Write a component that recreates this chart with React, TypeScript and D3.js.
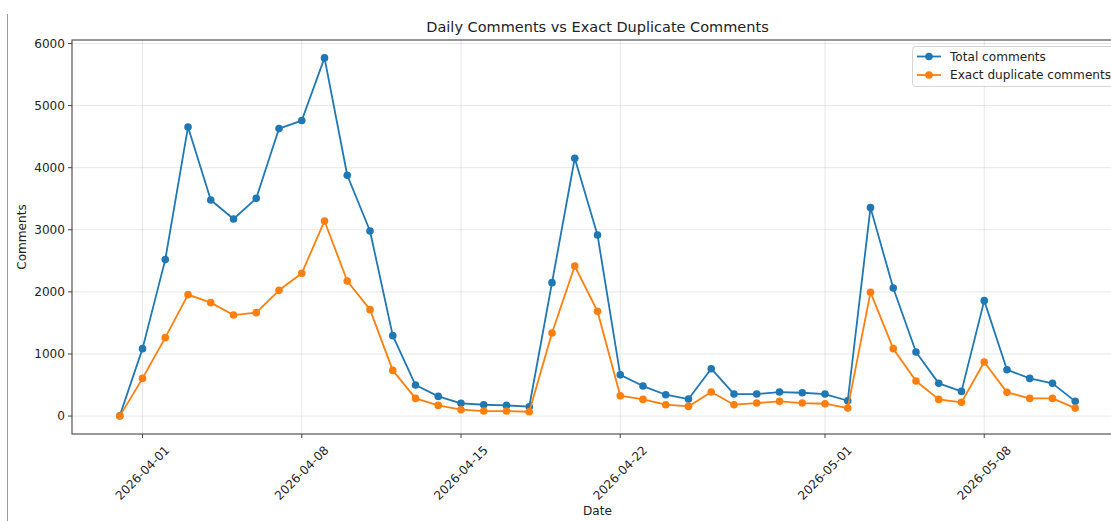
import React from "react";
import * as d3 from "d3";

const dates: string[] = [
  "2026-03-31","2026-04-01","2026-04-02","2026-04-03","2026-04-04","2026-04-05","2026-04-06","2026-04-07",
  "2026-04-08","2026-04-09","2026-04-10","2026-04-11","2026-04-12","2026-04-13","2026-04-14","2026-04-15",
  "2026-04-16","2026-04-17","2026-04-18","2026-04-19","2026-04-20","2026-04-21","2026-04-22","2026-04-23",
  "2026-04-24","2026-04-25","2026-04-26","2026-04-27","2026-04-28","2026-04-29","2026-04-30","2026-05-01",
  "2026-05-02","2026-05-03","2026-05-04","2026-05-05","2026-05-06","2026-05-07","2026-05-08","2026-05-09",
  "2026-05-10","2026-05-11","2026-05-12",
];

const totalComments: number[] = [
  5, 1086, 2520, 4656, 3480, 3174, 3507, 4630,
  4759, 5768, 3878, 2981, 1295, 500, 317, 205,
  183, 172, 151, 2149, 4152, 2917, 664, 484,
  344, 274, 763, 355, 355, 387, 376, 355,
  247, 3357, 2062, 1031, 527, 398, 1859, 747,
  607, 527, 237,
];

const duplicateComments: number[] = [
  0, 607, 1263, 1956, 1827, 1627, 1666, 2025,
  2299, 3142, 2175, 1714, 736, 285, 172, 103,
  81, 81, 70, 1338, 2417, 1687, 328, 269,
  183, 156, 387, 183, 210, 237, 210, 199,
  129, 1993, 1086, 564, 269, 221, 870, 382,
  285, 285, 129,
];

const xTickLabels: string[] = ["2026-04-01", "2026-04-08", "2026-04-15", "2026-04-22", "2026-05-01", "2026-05-08"];
const yTickValues: number[] = [0, 1000, 2000, 3000, 4000, 5000, 6000];

const seriesNames = ["Total comments", "Exact duplicate comments"];
const seriesColors = ["#1f77b4", "#ff7f0e"];

const W = 1111;
const H = 521;
const M = { left: 72, right: 1123, top: 40, bottom: 434 };
const FONT = "DejaVu Sans, sans-serif";
const FS = 12.1;

export default function App() {
  const parse = d3.utcParse("%Y-%m-%d");
  const xs = dates.map((d) => parse(d) as Date);
  const x0 = xs[0].getTime();
  const x1 = xs[xs.length - 1].getTime();
  const pad = (x1 - x0) * 0.05;
  const x = d3.scaleUtc().domain([new Date(x0 - pad), new Date(x1 + pad)]).range([M.left, M.right]);
  const maxV = d3.max(totalComments) as number;
  const minV = 0;
  const yp = (maxV - minV) * 0.05;
  const y = d3.scaleLinear().domain([minV - yp, maxV + yp]).range([M.bottom, M.top]);

  const series = [totalComments, duplicateComments];
  const line = d3
    .line<number>()
    .x((_, i) => x(xs[i]))
    .y((v) => y(v));

  const xTicks = xTickLabels.map((s) => ({ label: s, pos: x(parse(s) as Date) }));

  return (
    <svg
      width={W}
      height={H}
      style={{ position: "absolute", left: 0, top: 0, background: "#fff" }}
      fontFamily={FONT}
    >
      <rect x={0} y={0} width={W} height={H} fill="#fff" />
      <line x1={7.5} x2={7.5} y1={14} y2={H} stroke="#9a9a9a" strokeWidth={1} />

      {/* grid */}
      {xTicks.map((t) => (
        <line key={"gx" + t.label} x1={t.pos} x2={t.pos} y1={M.top} y2={M.bottom} stroke="#b0b0b0" strokeOpacity={0.3} strokeWidth={1} />
      ))}
      {yTickValues.map((v) => (
        <line key={"gy" + v} x1={M.left} x2={M.right} y1={y(v)} y2={y(v)} stroke="#b0b0b0" strokeOpacity={0.3} strokeWidth={1} />
      ))}

      {/* series */}
      {series.map((s, si) => (
        <g key={"s" + si}>
          <path d={line(s) || ""} fill="none" stroke={seriesColors[si]} strokeWidth={1.8} strokeLinejoin="round" />
          {s.map((v, i) => (
            <circle key={i} cx={x(xs[i])} cy={y(v)} r={3.8} fill={seriesColors[si]} />
          ))}
        </g>
      ))}

      {/* spines */}
      <rect x={M.left} y={M.top} width={M.right - M.left} height={M.bottom - M.top} fill="none" stroke="#444" strokeWidth={1.1} />

      {/* y ticks */}
      {yTickValues.map((v) => (
        <g key={"ty" + v}>
          <line x1={M.left - 4} x2={M.left} y1={y(v)} y2={y(v)} stroke="#444" strokeWidth={1} />
          <text x={M.left - 7} y={y(v)} textAnchor="end" dominantBaseline="central" fontSize={FS} fill="#222">
            {v}
          </text>
        </g>
      ))}

      {/* x ticks */}
      {xTicks.map((t) => (
        <g key={"tx" + t.label}>
          <line x1={t.pos} x2={t.pos} y1={M.bottom} y2={M.bottom + 4} stroke="#444" strokeWidth={1} />
          <text
            transform={`translate(${t.pos},${M.bottom + 39}) rotate(-45)`}
            textAnchor="middle"
            dominantBaseline="central"
            fontSize={FS}
            fill="#222"
          >
            {t.label}
          </text>
        </g>
      ))}

      {/* labels */}
      <text x={(M.left + M.right) / 2} y={515} textAnchor="middle" fontSize={FS} fill="#222">
        Date
      </text>
      <text transform={`translate(26,${(M.top + M.bottom) / 2}) rotate(-90)`} textAnchor="middle" fontSize={FS} fill="#222">
        Comments
      </text>
      <text x={(M.left + M.right) / 2} y={32} textAnchor="middle" fontSize={14.5} fill="#222">
        Daily Comments vs Exact Duplicate Comments
      </text>

      {/* legend */}
      <g>
        <rect x={912.5} y={46.5} width={230} height={40} rx={3} fill="#fff" fillOpacity={0.8} stroke="#d5d5d5" strokeWidth={1} />
        {seriesNames.map((n, i) => (
          <g key={"lg" + i} transform={`translate(0,${56.5 + i * 18.5})`}>
            <line x1={917} x2={941} y1={0} y2={0} stroke={seriesColors[i]} strokeWidth={1.8} />
            <circle cx={929} cy={0} r={3.8} fill={seriesColors[i]} />
            <text x={950} y={0} dominantBaseline="central" fontSize={FS} fill="#222">
              {n}
            </text>
          </g>
        ))}
      </g>
    </svg>
  );
}
